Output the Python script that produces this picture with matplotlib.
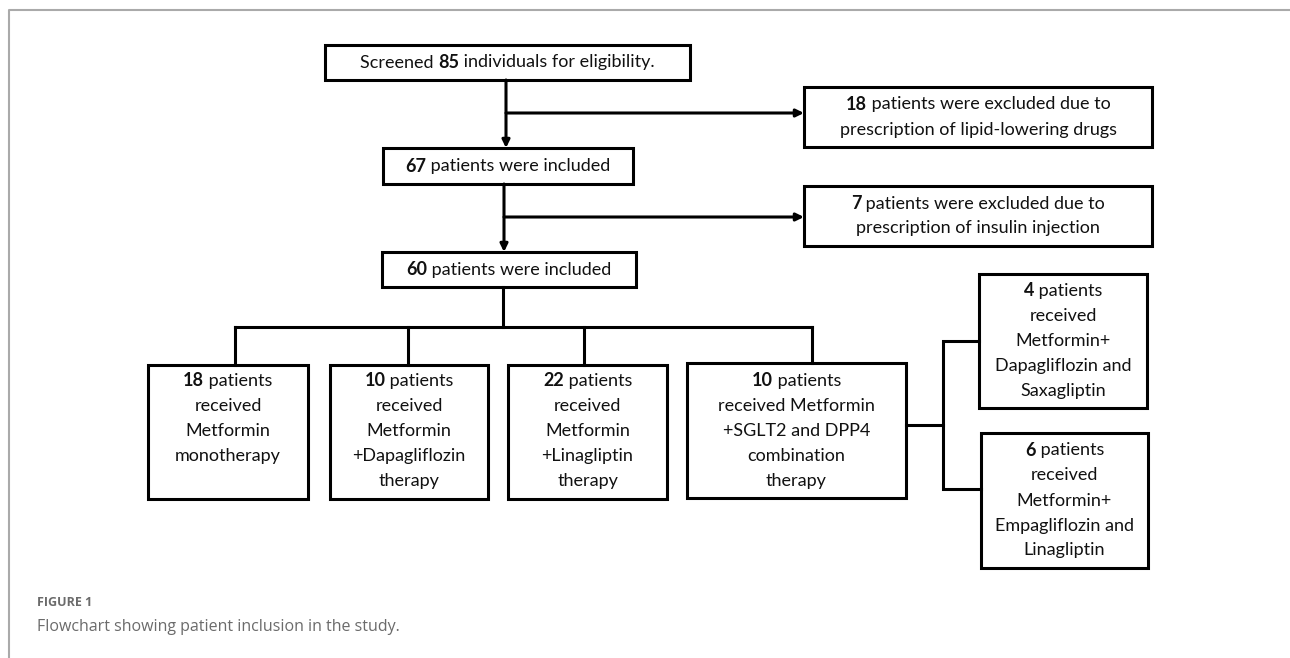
import matplotlib
matplotlib.use("Agg")
import matplotlib.pyplot as plt
from matplotlib.patches import Rectangle

# texts of the flowchart: each box is a list of lines, each line a list of (text, bold)
screened = [[("Screened ", False), ("85", True), (" individuals for eligibility.", False)]]
included_67 = [[("67", True), (" patients were included", False)]]
included_60 = [[("60", True), (" patients were included", False)]]
excluded_lipid = [[("18", True), (" patients were excluded due to", False)],
                  [("prescription of lipid-lowering drugs", False)]]
excluded_insulin = [[("7", True), (" patients were excluded due to", False)],
                    [("prescription of insulin injection", False)]]
groups = [
    [[("18", True), (" patients", False)], [("received", False)], [("Metformin", False)],
     [("monotherapy", False)]],
    [[("10", True), (" patients", False)], [("received", False)], [("Metformin", False)],
     [("+Dapagliflozin", False)], [("therapy", False)]],
    [[("22", True), (" patients", False)], [("received", False)], [("Metformin", False)],
     [("+Linagliptin", False)], [("therapy", False)]],
    [[("10", True), (" patients", False)], [("received Metformin", False)],
     [("+SGLT2 and DPP4", False)], [("combination", False)], [("therapy", False)]],
]
subgroups = [
    [[("4", True), (" patients", False)], [("received", False)], [("Metformin+", False)],
     [("Dapagliflozin and", False)], [("Saxagliptin", False)]],
    [[("6", True), (" patients", False)], [("received", False)], [("Metformin+", False)],
     [("Empagliflozin and", False)], [("Linagliptin", False)]],
]
caption_label = "FIGURE 1"
caption_text = "Flowchart showing patient inclusion in the study."

# layout in pixels (x0, y0, x1, y1), y from top
W, H = 1290, 658
BOX_FONT = ["Lato", "DejaVu Sans"]
FS = 13.0
LW = 2.2
LINE_H = 25

fig = plt.figure(figsize=(W / 100, H / 100), dpi=100)
ax = fig.add_axes([0, 0, 1, 1])
ax.set_xlim(0, W)
ax.set_ylim(H, 0)
ax.axis("off")
renderer = fig.canvas.get_renderer()


def text_width(s, bold):
    t = ax.text(0, 0, s, fontsize=FS, family=BOX_FONT,
                fontweight="bold" if bold else "normal")
    w = t.get_window_extent(renderer).width
    t.remove()
    return w


def draw_line(cx, cy, segments):
    widths = [text_width(s, b) for s, b in segments]
    x = cx - sum(widths) / 2
    for (s, b), w in zip(segments, widths):
        ax.text(x, cy, s, fontsize=FS, family=BOX_FONT, ha="left", va="center",
                fontweight="bold" if b else "normal", color="#111111")
        x += w


def draw_box(x0, y0, x1, y1, lines, first_y=None):
    ax.add_patch(Rectangle((x0, y0), x1 - x0, y1 - y0, fill=False,
                           edgecolor="black", lw=LW, zorder=3))
    cx = (x0 + x1) / 2
    if first_y is None:
        first_y = (y0 + y1) / 2 - (len(lines) - 1) * LINE_H / 2
    for i, segs in enumerate(lines):
        draw_line(cx, first_y + i * LINE_H, segs)


def seg(points):
    xs, ys = zip(*points)
    ax.plot(xs, ys, color="black", lw=LW, solid_capstyle="projecting",
            solid_joinstyle="miter")


def arrow(x0, y0, x1, y1):
    ax.annotate("", xy=(x1, y1), xytext=(x0, y0),
                arrowprops=dict(arrowstyle="-|>,head_length=0.45,head_width=0.22",
                                color="black", lw=LW, shrinkA=0, shrinkB=0))


# outer page frame
ax.plot([9, 9, W], [H, 10, 10], color="#aaaaaa", lw=1.5)

# main column
draw_box(325, 45, 690, 80, screened)
draw_box(383, 148, 633, 184, included_67)
draw_box(382, 252, 636, 287, included_60)
draw_box(804, 87, 1152, 147, excluded_lipid)
draw_box(804, 186, 1152, 246, excluded_insulin)

arrow(506, 80, 506, 148)
arrow(506, 113, 804, 113)
arrow(504, 184, 504, 252)
arrow(504, 217, 804, 217)

# treatment groups
group_boxes = [(148, 365, 308, 499), (330, 365, 488, 499),
               (508, 365, 667, 499), (687, 363, 906, 498)]
drops = [235, 408, 584, 812]
seg([(503, 287), (503, 327)])
seg([(drops[0], 327), (drops[-1], 327)])
for xd, (x0, y0, x1, y1), lines in zip(drops, group_boxes, groups):
    seg([(xd, 327), (xd, y0)])
    draw_box(x0, y0, x1, y1, lines, first_y=381)

# combination sub-groups
sub_boxes = [(979, 274, 1147, 408), (981, 433, 1148, 568)]
seg([(906, 425), (943, 425)])
seg([(979, 341), (943, 341), (943, 489), (981, 489)])
for (x0, y0, x1, y1), lines in zip(sub_boxes, subgroups):
    draw_box(x0, y0, x1, y1, lines)

# caption
ax.text(37, 603, caption_label, fontsize=9, fontweight="bold", family=["Open Sans"],
        color="#6b6b6b", ha="left", va="center")
ax.text(37, 627, caption_text, fontsize=11.5, family=["Open Sans"],
        color="#6b6b6b", ha="left", va="center")

fig.savefig("out.png", dpi=100, facecolor="white")
